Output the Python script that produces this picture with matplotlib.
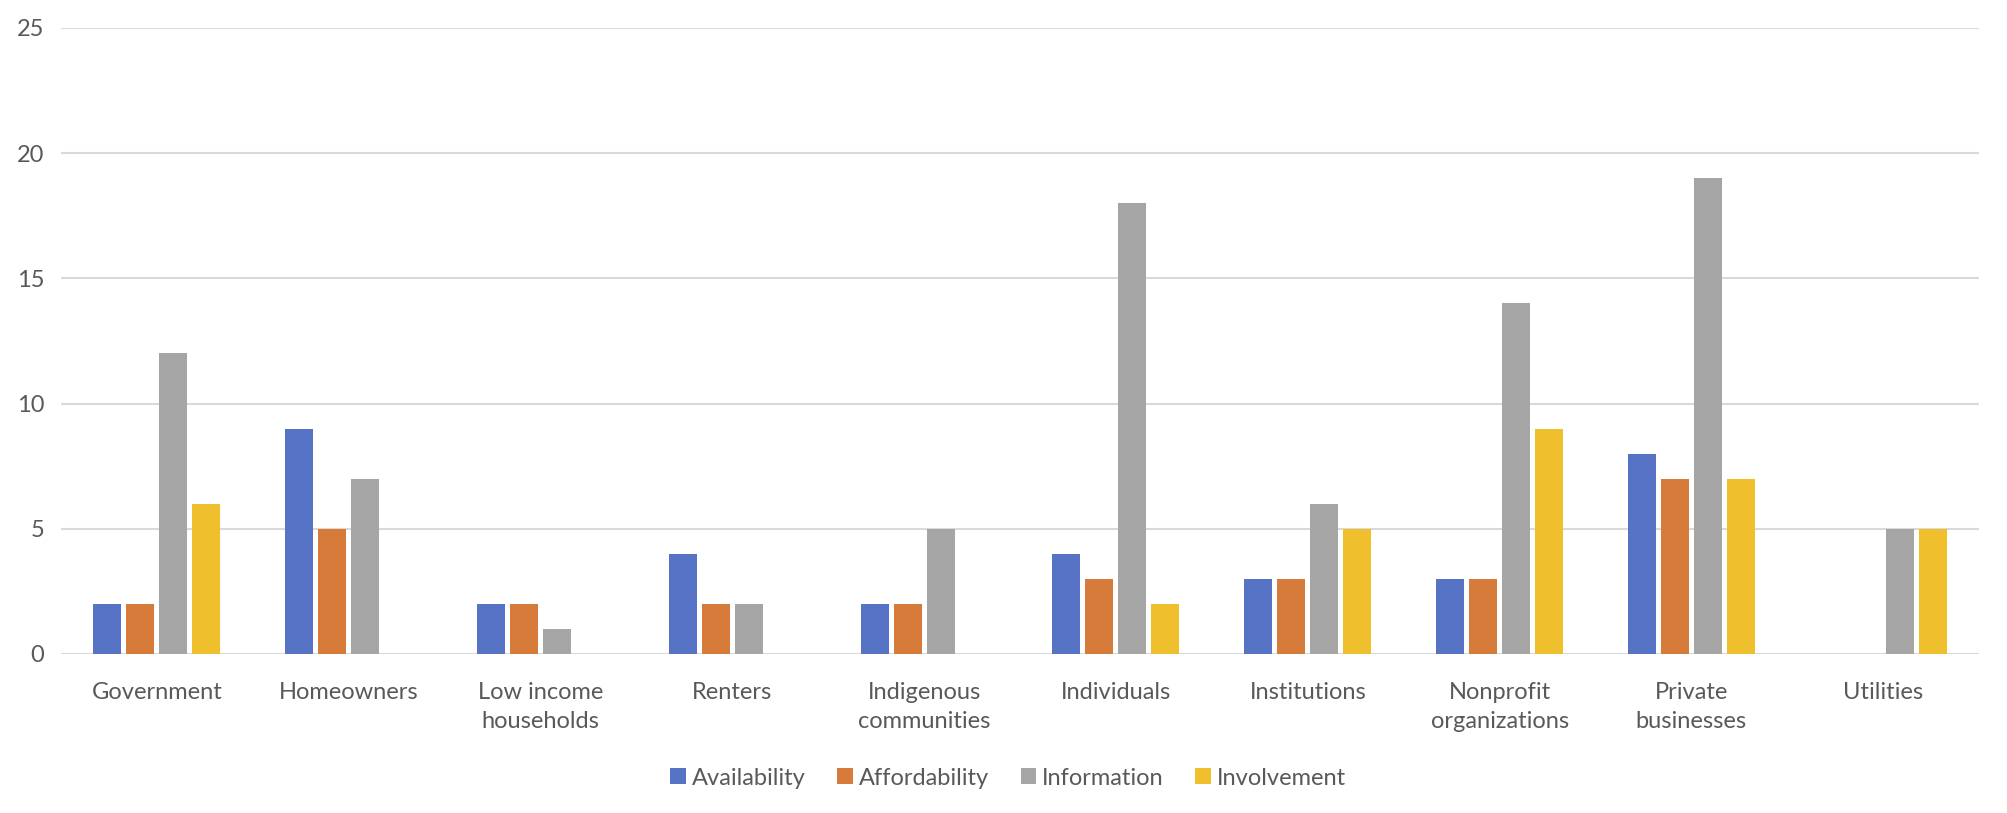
import matplotlib
matplotlib.use("Agg")
import matplotlib.pyplot as plt
import numpy as np

categories = ["Government", "Homeowners", "Low income\nhouseholds", "Renters",
              "Indigenous\ncommunities", "Individuals", "Institutions",
              "Nonprofit\norganizations", "Private\nbusinesses", "Utilities"]
series_names = ["Availability", "Affordability", "Information", "Involvement"]
availability = [2, 9, 2, 4, 2, 4, 3, 3, 8, 0]
affordability = [2, 5, 2, 2, 2, 3, 3, 3, 7, 0]
information = [12, 7, 1, 2, 5, 18, 6, 14, 19, 5]
involvement = [6, 0, 0, 0, 0, 2, 5, 9, 7, 5]
yticks = [0, 5, 10, 15, 20, 25]

colors = ["#5572C4", "#D67B3A", "#A5A5A5", "#EFBF2E"]
text_color = "#595959"

plt.rcParams['font.family'] = ['Lato', 'DejaVu Sans']

fig = plt.figure(figsize=(20.08, 8.13), dpi=100)
ax = fig.add_axes([0.0304, 0.1956, 0.9552, 0.77])

x = np.arange(len(categories))
bw = 0.146
step = 0.172
data = [availability, affordability, information, involvement]
for i, (vals, name, c) in enumerate(zip(data, series_names, colors)):
    ax.bar(x + (i - 1.5) * step, vals, width=bw, color=c, label=name, zorder=3)

ax.set_xlim(-0.5, len(categories) - 0.5)
ax.set_ylim(0, 25)
ax.set_yticks(yticks)
ax.set_xticks(x)
ax.set_xticklabels(categories, fontsize=17, color=text_color, linespacing=1.5)
ax.tick_params(axis='y', labelsize=17, labelcolor=text_color, length=0, pad=12)
ax.tick_params(axis='x', length=0, pad=20)
ax.grid(axis='y', color="#D9D9D9", linewidth=1.5, zorder=0)
for s in ax.spines.values():
    s.set_visible(False)

leg = fig.legend(loc='center', bbox_to_anchor=(0.502, 0.043), ncol=4, frameon=False,
                 fontsize=17, handlelength=0.65, handleheight=0.65, handletextpad=0.25,
                 columnspacing=1.35)
for t in leg.get_texts():
    t.set_color(text_color)

fig.savefig("out.png", dpi=100)
